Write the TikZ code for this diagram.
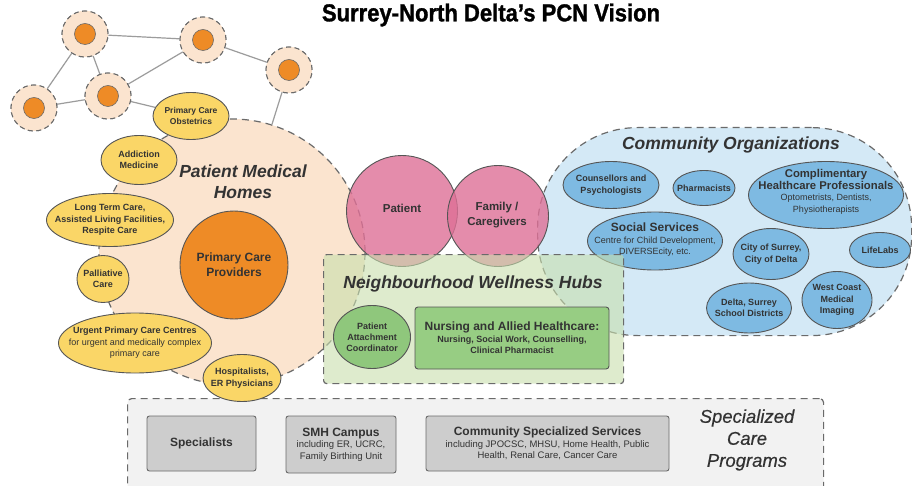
\documentclass[tikz,border=0pt]{standalone}
\usepackage{fontspec}
\setmainfont{Liberation Sans}
\newfontfamily\titlefont[FakeBold=1.2,FakeStretch=0.9]{Liberation Sans Bold}
\newfontfamily\scpfont[FakeBold=0.4]{Liberation Sans Italic}
\usetikzlibrary{shapes.geometric}
\definecolor{peach}{HTML}{FBE4CF}
\definecolor{orangec}{HTML}{EE8B26}
\definecolor{yel}{HTML}{FAD667}
\definecolor{pinkc}{HTML}{DE7096}
\definecolor{cbg}{HTML}{D4E9F6}
\definecolor{cblue}{HTML}{7EBAE2}
\definecolor{hubg}{HTML}{C8DFAD}
\definecolor{pacg}{HTML}{8FC77C}
\definecolor{nurseg}{HTML}{97CD83}
\definecolor{sbg}{HTML}{F2F2F2}
\definecolor{gbox}{HTML}{CDCDCD}
\definecolor{edgec}{HTML}{555555}
\definecolor{dashc}{HTML}{6A6A6A}
\definecolor{txt}{HTML}{333333}
\definecolor{netc}{HTML}{9C9C9C}
\begin{document}
\begin{tikzpicture}[x=1pt,y=-1pt,
  dsh/.style={dash pattern=on 7pt off 5pt, line width=1.2pt, draw=dashc},
  netline/.style={draw=netc, line width=1.2pt},
  netouter/.style={circle, minimum size=46pt, inner sep=0pt, fill=peach, draw=dashc, line width=1pt, dash pattern=on 5pt off 3.5pt},
  netinner/.style={circle, minimum size=21pt, inner sep=0pt, fill=orangec, draw=dashc, line width=0.6pt},
  shp/.style={inner sep=0pt, draw=edgec, line width=0.9pt},
  yell/.style={shp, ellipse, fill=yel},
  blue/.style={shp, ellipse, fill=cblue},
  gbx/.style={shp, rectangle, rounded corners=2.5pt, fill=gbox, draw=dashc},
  lab/.style={align=center, text=txt, inner sep=0pt, font=\bfseries\fontsize{9}{11.5}\selectfont},
  head/.style={align=center, text=txt, inner sep=0pt, font=\bfseries\itshape\fontsize{17.5}{21}\selectfont}
]
\useasboundingbox (0,0) rectangle (912,486);
\clip (0,0) rectangle (912,486);
\fill[white] (0,0) rectangle (912,486);

% title
\node[font=\titlefont\fontsize{24.5}{26}\selectfont, text=black, inner sep=0pt] (title) at (491,15) {Surrey-North Delta’s PCN Vision};

% specialized care programs background
\node[dsh, fill=sbg, rounded corners=4pt, minimum width=696pt, minimum height=110pt, anchor=north west, inner sep=0pt] (scp) at (127,398) {};

% network nodes (outer rings, drawn again over the edges below)
\node[netouter] (n1) at (85,34) {};
\node[netouter] (n2) at (203,40) {};
\node[netouter] (n3) at (289,70) {};
\node[netouter] (n4) at (34,108) {};
\node[netouter] (n5) at (108,96) {};

% patient medical homes
\node[circle, minimum size=266pt, inner sep=0pt, fill=peach, dsh] (pmh) at (232,252) {};

% community organizations
\node[rectangle, rounded corners=100pt, minimum width=374pt, minimum height=208pt, inner sep=0pt, anchor=north west, fill=cbg, dsh] (co) at (537,127) {};

% yellow ellipses
\node[yell, minimum width=76pt, minimum height=47pt] (obs) at (191,116) {};
\node[yell, minimum width=76pt, minimum height=49pt] (add) at (139,160) {};
\node[yell, minimum width=127pt, minimum height=53pt] (ltc) at (110,220) {};
\node[yell, minimum width=52pt, minimum height=47pt] (pal) at (103,279) {};
\node[yell, minimum width=153pt, minimum height=60pt] (upc) at (135,343) {};
\node[yell, minimum width=78pt, minimum height=47pt] (hos) at (242,378) {};

% network edges
\draw[netline] (n1) -- (n2);
\draw[netline] (n1) -- (n4);
\draw[netline] (n1) -- (n5);
\draw[netline] (n4) -- (n5);
\draw[netline] (n5) -- (n2);
\draw[netline] (n2) -- (n3);
\draw[netline] (n3) -- (pmh);
\draw[netline] (n5) -- (obs);
\foreach \p in {(85,34), (203,40), (289,70), (34,108), (108,96)}{
  \node[netouter] at \p {};
  \node[netinner] at \p {};
}

% primary care providers
\node[circle, minimum size=108pt, inner sep=0pt, fill=orangec, draw=edgec, line width=0.9pt] (pcp) at (234,265) {};

% blue ellipses
\node[blue, minimum width=96pt, minimum height=47pt] (cou) at (611,185) {};
\node[blue, minimum width=62pt, minimum height=35pt] (pha) at (704,188) {};
\node[blue, minimum width=155pt, minimum height=67pt] (chp) at (826,195) {};
\node[blue, minimum width=135pt, minimum height=58pt] (soc) at (655,241) {};
\node[blue, minimum width=76pt, minimum height=51pt] (cit) at (771,254) {};
\node[blue, minimum width=61pt, minimum height=35pt] (lif) at (880,250) {};
\node[blue, minimum width=85pt, minimum height=50pt] (dsd) at (749,308) {};
\node[blue, minimum width=70pt, minimum height=57pt] (wcm) at (837,300) {};

% pink circles
\node[circle, minimum size=111pt, inner sep=0pt, fill=pinkc, fill opacity=0.8, draw=edgec, line width=0.9pt] (pat) at (402,211) {};
\node[circle, minimum size=101pt, inner sep=0pt, fill=pinkc, fill opacity=0.8, draw=edgec, line width=0.9pt] (fam) at (498,216) {};

% hub
\node[rectangle, rounded corners=3pt, minimum width=300pt, minimum height=129pt, inner sep=0pt, anchor=north west, fill=hubg, fill opacity=0.6, dsh] (hub) at (323,254) {};
\node[shp, ellipse, fill=pacg, minimum width=77pt, minimum height=63pt] (pac) at (372,337) {};
\node[shp, rectangle, rounded corners=3pt, fill=nurseg, minimum width=194pt, minimum height=62pt] (nur) at (512,338) {};

% gray boxes
\node[gbx, minimum width=109pt, minimum height=55pt] (spe) at (201.5,443.5) {};
\node[gbx, minimum width=110pt, minimum height=57pt] (smh) at (341,444.5) {};
\node[gbx, minimum width=243pt, minimum height=55pt] (css) at (547.5,443.5) {};

% texts
\node[head] at (243,182) {Patient Medical\\Homes};
\node[head] at (731,145) {Community Organizations};
\node[head] at (473,284) {Neighbourhood Wellness Hubs};
\node[align=center, text=txt, inner sep=0pt, font=\scpfont\fontsize{18.5}{22}\selectfont] at (747,440) {Specialized\\Care\\Programs};

\node[lab, font=\bfseries\fontsize{12}{15}\selectfont] at (pcp) {Primary Care\\Providers};
\node[lab, font=\bfseries\fontsize{8.5}{11.5}\selectfont] at (obs) {Primary Care\\Obstetrics};
\node[lab] at (add) {Addiction\\Medicine};
\node[lab] at (ltc) {Long Term Care,\\Assisted Living Facilities,\\Respite Care};
\node[lab] at (pal) {Palliative\\Care};
\node[lab] at (upc) {Urgent Primary Care Centres\\{\mdseries for urgent and medically complex}\\{\mdseries primary care}};
\node[lab] at (hos) {Hospitalists,\\ER Physicians};

\node[lab, font=\bfseries\fontsize{11.5}{15}\selectfont] at (402,208) {Patient};
\node[lab, font=\bfseries\fontsize{11.5}{15}\selectfont] at (497,215) {Family /\\Caregivers};

\node[lab] at (cou) {Counsellors and\\Psychologists};
\node[lab] at (pha) {Pharmacists};
\node[lab, align=center] at (826,192) {{\fontsize{11.3}{14}\selectfont Complimentary}\\{\fontsize{11.3}{14}\selectfont Healthcare Professionals}\\{\mdseries\fontsize{9}{11.5}\selectfont Optometrists, Dentists,}\\{\mdseries\fontsize{9}{11.5}\selectfont Physiotherapists}};
\node[lab] at (655,240) {{\fontsize{12}{14}\selectfont Social Services}\\{\mdseries Centre for Child Development,}\\{\mdseries DIVERSEcity, etc.}};
\node[lab] at (cit) {City of Surrey,\\City of Delta};
\node[lab] at (lif) {LifeLabs};
\node[lab] at (dsd) {Delta, Surrey\\School Districts};
\node[lab] at (wcm) {West Coast\\Medical\\Imaging};

\node[lab, font=\bfseries\fontsize{9}{11}\selectfont] at (pac) {Patient\\Attachment\\Coordinator};
\node[lab] at (nur) {{\fontsize{12}{14}\selectfont Nursing and Allied Healthcare:}\\Nursing, Social Work, Counselling,\\Clinical Pharmacist};

\node[lab, font=\bfseries\fontsize{12}{14}\selectfont] at (spe) {Specialists};
\node[lab] at (smh) {{\fontsize{12}{14}\selectfont SMH Campus}\\{\mdseries\fontsize{9.5}{11.5}\selectfont including ER, UCRC,}\\{\mdseries\fontsize{9.5}{11.5}\selectfont Family Birthing Unit}};
\node[lab] at (css) {{\fontsize{12}{14}\selectfont Community Specialized Services}\\{\mdseries\fontsize{9.5}{11.5}\selectfont including JPOCSC, MHSU, Home Health, Public}\\{\mdseries\fontsize{9.5}{11.5}\selectfont Health, Renal Care, Cancer Care}};
\end{tikzpicture}
\end{document}
